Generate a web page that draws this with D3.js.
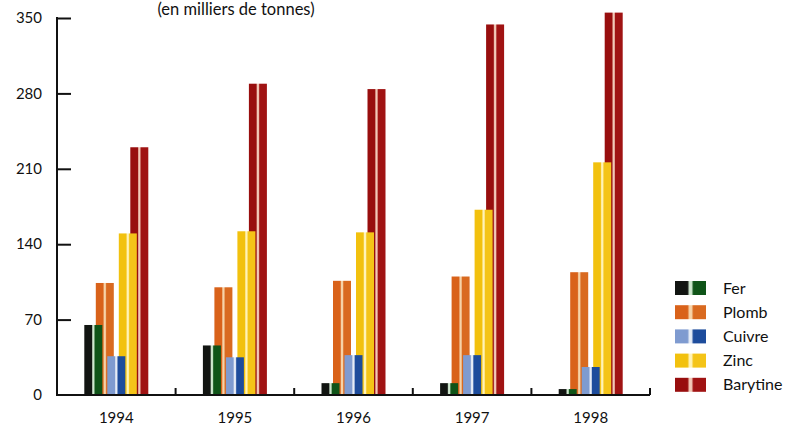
<!DOCTYPE html>
<html><head><meta charset="utf-8">
<script src="https://cdn.jsdelivr.net/npm/d3@7"></script>
<style>body{margin:0;background:#fff;} svg{display:block;}</style>
</head><body>
<svg id="c" width="792" height="427"></svg>
<script>
const years = ["1994","1995","1996","1997","1998"];
const seriesNames = ["Fer","Plomb","Cuivre","Zinc","Barytine"];
const fer      = [65, 46, 11, 11, 5.5];
const plomb    = [104, 100, 106, 110, 114];
const cuivre   = [36, 35, 37, 37, 26];
const zinc     = [150, 152, 151, 172, 216];
const barytine = [230, 289, 284, 344, 355];
const yTicks = [0, 70, 140, 210, 280, 350];
const title = "(en milliers de tonnes)";

const values = [fer, plomb, cuivre, zinc, barytine];
// [left stripe, light gap, right stripe]
const colors = [
  ["#121512", "#cfe8cf", "#0f5418"],
  ["#d9621a", "#f6d3a8", "#d96a20"],
  ["#7f9bd0", "#e6ecf6", "#1d4c9c"],
  ["#f2c10e", "#fff3b8", "#f4c418"],
  ["#980e0e", "#f2c9b8", "#a01313"]
];

const svg = d3.select("#c");
const defs = svg.append("defs");
colors.forEach((c,i)=>{
  const g = defs.append("linearGradient").attr("id","g"+i).attr("x1","0").attr("x2","1").attr("y1","0").attr("y2","0");
  g.append("stop").attr("offset","0%").attr("stop-color",c[0]);
  g.append("stop").attr("offset","40%").attr("stop-color",c[0]);
  g.append("stop").attr("offset","47%").attr("stop-color",c[1]);
  g.append("stop").attr("offset","53%").attr("stop-color",c[1]);
  g.append("stop").attr("offset","60%").attr("stop-color",c[2]);
  g.append("stop").attr("offset","100%").attr("stop-color",c[2]);
});

const x = d3.scaleBand().domain(years).range([57, 650]).paddingInner(0).paddingOuter(0);
const y = d3.scaleLinear().domain([0, 350]).range([395, 18]);

const barW = 18, step = 11.5;
const groupW = step*(seriesNames.length-1) + barW;

const font = "Lato, 'Open Sans', sans-serif";

// bars
const groups = svg.append("g").selectAll("g").data(years).join("g")
  .attr("transform", d => `translate(${x(d) + x.bandwidth()/2 - groupW/2},0)`);
groups.each(function(yr, yi){
  const items = seriesNames.map((s,i)=>({i, v: values[i][yi]}))
    .sort((a,b)=>b.v-a.v);
  d3.select(this).selectAll("rect").data(items).join("rect")
    .attr("x", d => d.i*step)
    .attr("width", barW)
    .attr("y", d => y(d.v))
    .attr("height", d => y(0) - y(d.v))
    .attr("fill", d => `url(#g${d.i})`);
});

// y axis
const yAxis = d3.axisRight(y).tickValues(yTicks).tickSize(14).tickFormat("");
const ya = svg.append("g").attr("transform","translate(57,0)").call(yAxis);
ya.select(".domain").remove();
ya.selectAll(".tick line").attr("stroke","#111").attr("stroke-width",2)
  .filter(d=>d===0).remove();
svg.append("line").attr("x1",57).attr("x2",57).attr("y1",y(350)-1).attr("y2",y(0)+1)
  .attr("stroke","#111").attr("stroke-width",2);
svg.append("g").selectAll("text").data(yTicks).join("text")
  .attr("x", 42).attr("y", d => y(d)).attr("dy","0.35em")
  .attr("text-anchor","end").attr("font-family",font).attr("font-size",15)
  .attr("fill","#111").text(d=>d);

// baseline
svg.append("line").attr("x1",57).attr("x2",650).attr("y1",y(0)).attr("y2",y(0))
  .attr("stroke","#111").attr("stroke-width",2);
const bounds = years.slice(1).map(d=>x(d)).concat([650]);
svg.append("g").selectAll("line").data(bounds).join("line")
  .attr("x1",d=>d).attr("x2",d=>d).attr("y1",y(0)).attr("y2",y(0)-7)
  .attr("stroke","#111").attr("stroke-width",2);

// x labels
svg.append("g").selectAll("text").data(years).join("text")
  .attr("x", d => x(d) + x.bandwidth()/2).attr("y", 418)
  .attr("dy","0.35em").attr("text-anchor","middle")
  .attr("font-family",font).attr("font-size",15).attr("fill","#111").text(d=>d);

// title
svg.append("text").attr("x",236).attr("y",15).attr("text-anchor","middle")
  .attr("font-family",font).attr("font-size",16.5).attr("fill","#111").text(title);

// legend
const lg = svg.append("g").attr("transform","translate(675,288)");
const rowH = 24.2;
seriesNames.forEach((s,i)=>{
  lg.append("rect").attr("x",0).attr("y",i*rowH-7).attr("width",31).attr("height",14)
    .attr("fill",`url(#g${i})`);
  lg.append("text").attr("x",48).attr("y",i*rowH).attr("dy","0.35em")
    .attr("font-family",font).attr("font-size",16).attr("fill","#111").text(s);
});
</script>
</body></html>
